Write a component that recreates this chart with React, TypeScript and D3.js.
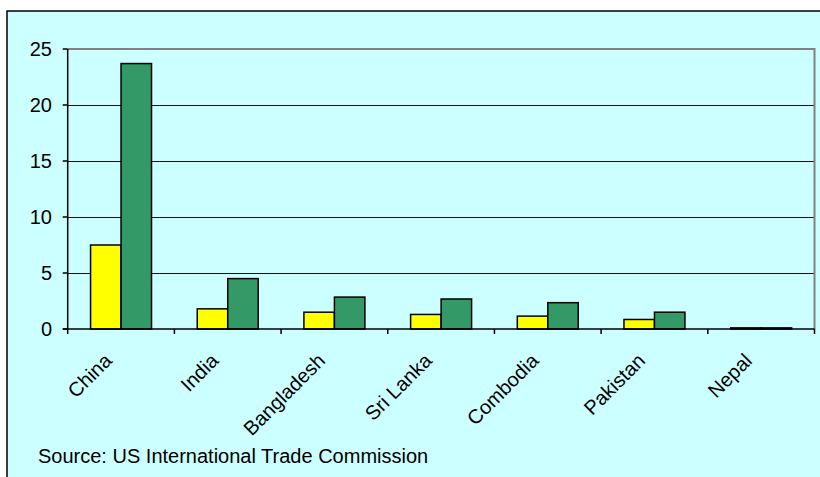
import React from "react";
import * as d3 from "d3";

const categories = ["China", "India", "Bangladesh", "Sri Lanka", "Combodia", "Pakistan", "Nepal"];
const seriesYellow = [7.5, 1.8, 1.5, 1.3, 1.15, 0.85, 0.1];
const seriesGreen = [23.7, 4.5, 2.85, 2.68, 2.35, 1.5, 0.1];
const yTicks = [0, 5, 10, 15, 20, 25];
const sourceText = "Source: US International Trade Commission";

export default function App() {
  const W = 820, H = 477;
  const left = 67.7, right = 814.5, top = 49, bottom = 329;
  const x = d3.scaleBand<string>().domain(categories).range([left, right]).paddingInner(0).paddingOuter(0);
  const y = d3.scaleLinear().domain([0, 25]).range([bottom, top]);
  const bw = x.bandwidth();
  const barW = bw / 3.5;
  const gap = (bw - 2 * barW) / 2;
  const font = "Arial, 'Liberation Sans', sans-serif";
  const fs = 20;

  return (
    <svg width={W} height={H} style={{ position: "absolute", left: 0, top: 0 }} fontFamily={font}>
      <rect x={0} y={0} width={W} height={H} fill="#ffffff" />
      <rect x={7} y={11} width={W + 10} height={H + 10} fill="#CCFFFF" stroke="#000" strokeWidth={1.5} />
      {/* gridlines */}
      {yTicks.filter(t => t > 0 && t < 25).map(t => (
        <line key={"g" + t} x1={left} x2={right} y1={Math.round(y(t)) + 0.5} y2={Math.round(y(t)) + 0.5} stroke="#111" strokeWidth={1} />
      ))}
      {/* plot border top/right */}
      <path d={`M${left},${y(25)} H${right} V${bottom}`} fill="none" stroke="#808080" strokeWidth={2} />
      {/* bars */}
      {categories.map((c, i) => {
        const x0 = (x(c) as number) + gap;
        return (
          <g key={c}>
            <rect x={x0} y={y(seriesYellow[i])} width={barW} height={bottom - y(seriesYellow[i])} fill="#FFFF00" stroke="#000" strokeWidth={1.5} />
            <rect x={x0 + barW} y={y(seriesGreen[i])} width={barW} height={bottom - y(seriesGreen[i])} fill="#339966" stroke="#000" strokeWidth={1.5} />
          </g>
        );
      })}
      {/* y axis */}
      <line x1={left} x2={left} y1={top} y2={bottom + 5} stroke="#000" strokeWidth={1.5} />
      {yTicks.map(t => (
        <g key={"y" + t}>
          <line x1={left - 5} x2={left} y1={y(t)} y2={y(t)} stroke="#000" strokeWidth={1.5} />
          <text x={52} y={y(t)} dy="0.36em" textAnchor="end" fontSize={fs} fill="#000">{t}</text>
        </g>
      ))}
      {/* x axis */}
      <line x1={left - 5} x2={right} y1={bottom} y2={bottom} stroke="#000" strokeWidth={1.5} />
      {categories.map((c, i) => (
        <line key={"xt" + c} x1={(x(c) as number) + bw} x2={(x(c) as number) + bw} y1={bottom} y2={bottom + 5} stroke="#000" strokeWidth={1.5} />
      ))}
      {categories.map(c => {
        const cx = (x(c) as number) + bw / 2;
        return (
          <text key={"l" + c} transform={`translate(${cx - 8},${bottom + 33}) rotate(-45)`} textAnchor="end" fontSize={fs} fill="#000">{c}</text>
        );
      })}
      <text x={38} y={463} fontSize={fs} fill="#000">{sourceText}</text>
    </svg>
  );
}
